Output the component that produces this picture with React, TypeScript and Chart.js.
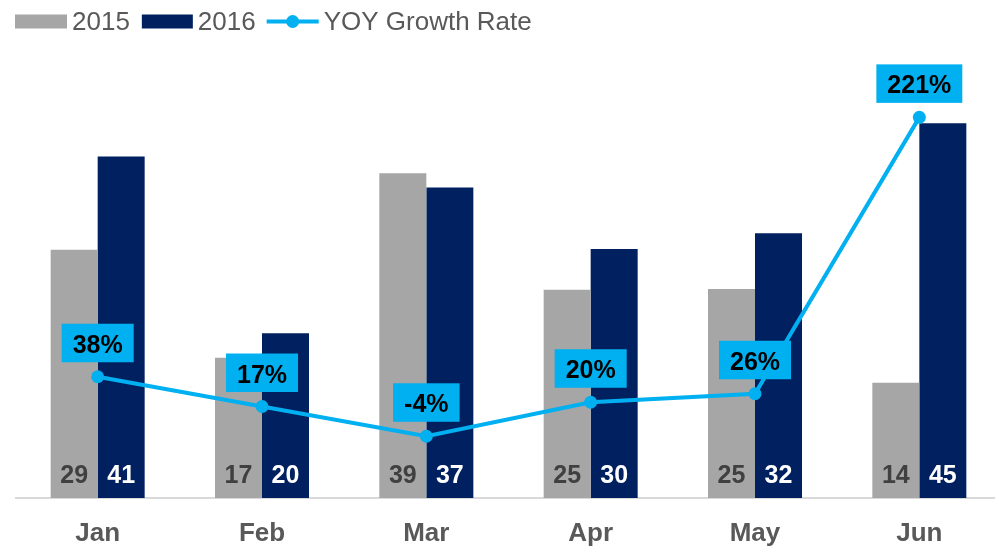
import React, { useEffect, useRef } from "react";
import { Chart, registerables } from "chart.js";

Chart.register(...registerables);

const categories = ["Jan", "Feb", "Mar", "Apr", "May", "Jun"];
const seriesNames = ["2015", "2016", "YOY Growth Rate"];
const values2015 = [29.8, 16.85, 39.0, 25.0, 25.1, 13.85];
const values2016 = [41.0, 19.8, 37.3, 29.9, 31.8, 45.0];
const labels2015 = ["29", "17", "39", "25", "25", "14"];
const labels2016 = ["41", "20", "37", "30", "32", "45"];
const growthRate = [38, 17, -4, 20, 26, 221];

const FONT = '"Liberation Sans", Arial, Helvetica, sans-serif';
const GRAY = "#A6A6A6";
const NAVY = "#002060";
const CYAN = "#00B0F0";

const labelPlugin = {
  id: "customLabels",
  afterDatasetsDraw(chart: any) {
    const ctx = chart.ctx;
    ctx.save();
    ctx.textAlign = "center";
    ctx.textBaseline = "alphabetic";
    ctx.font = `bold 25px ${FONT}`;
    [0, 1].forEach((di) => {
      const meta = chart.getDatasetMeta(di);
      const texts = di === 0 ? labels2015 : labels2016;
      ctx.fillStyle = di === 0 ? "#404040" : "#FFFFFF";
      meta.data.forEach((el: any, i: number) => {
        ctx.fillText(texts[i], el.x, el.base - 15.5);
      });
    });
    ctx.font = `bold 25px ${FONT}`;
    const lm = chart.getDatasetMeta(2);
    lm.data.forEach((pt: any, i: number) => {
      const t = growthRate[i] + "%";
      const w = ctx.measureText(t).width + 22;
      ctx.fillStyle = CYAN;
      ctx.fillRect(pt.x - w / 2, pt.y - 53, w, 38.5);
      ctx.fillStyle = "#000000";
      ctx.fillText(t, pt.x, pt.y - 24);
    });
    ctx.restore();
  },
};

const legendPlugin = {
  id: "customLegend",
  afterDraw(chart: any) {
    const ctx = chart.ctx;
    ctx.save();
    ctx.font = `26px ${FONT}`;
    ctx.textAlign = "left";
    ctx.textBaseline = "alphabetic";
    const baseY = 29.5;
    let x = 15;
    // 2015
    ctx.fillStyle = GRAY;
    ctx.fillRect(x, 14.5, 52, 14);
    x += 52 + 5;
    ctx.fillStyle = "#595959";
    ctx.fillText(seriesNames[0], x, baseY);
    x += ctx.measureText(seriesNames[0]).width + 12;
    // 2016
    ctx.fillStyle = NAVY;
    ctx.fillRect(x, 14.5, 51, 14);
    x += 51 + 5;
    ctx.fillStyle = "#595959";
    ctx.fillText(seriesNames[1], x, baseY);
    x += ctx.measureText(seriesNames[1]).width + 11;
    // line
    ctx.strokeStyle = CYAN;
    ctx.lineWidth = 4;
    ctx.beginPath();
    ctx.moveTo(x, 21.5);
    ctx.lineTo(x + 52, 21.5);
    ctx.stroke();
    ctx.fillStyle = CYAN;
    ctx.beginPath();
    ctx.arc(x + 26, 21.5, 6.5, 0, Math.PI * 2);
    ctx.fill();
    x += 52 + 5;
    ctx.fillStyle = "#595959";
    ctx.fillText(seriesNames[2], x, baseY);
    ctx.restore();
  },
};

export default function App() {
  const ref = useRef<HTMLCanvasElement | null>(null);

  useEffect(() => {
    document.body.style.margin = "0";
    document.body.style.overflow = "hidden";
    const canvas = ref.current;
    if (!canvas) return;
    const chart = new Chart(canvas, {
      type: "bar",
      data: {
        labels: categories,
        datasets: [
          {
            type: "bar",
            label: seriesNames[0],
            data: values2015,
            backgroundColor: GRAY,
            yAxisID: "y",
            order: 1,
            barPercentage: 1,
            categoryPercentage: 0.572,
          },
          {
            type: "bar",
            label: seriesNames[1],
            data: values2016,
            backgroundColor: NAVY,
            yAxisID: "y",
            order: 2,
            barPercentage: 1,
            categoryPercentage: 0.572,
          },
          {
            type: "line",
            label: seriesNames[2],
            data: growthRate,
            borderColor: CYAN,
            backgroundColor: CYAN,
            borderWidth: 4,
            pointRadius: 6.5,
            pointBorderWidth: 0,
            pointBackgroundColor: CYAN,
            tension: 0,
            yAxisID: "y1",
            order: 0,
          } as any,
        ],
      },
      options: {
        responsive: false,
        animation: false,
        layout: { padding: { left: 15.5, right: 8.5, top: 81.65, bottom: 0 } },
        plugins: {
          legend: { display: false },
          tooltip: { enabled: false },
        },
        scales: {
          x: {
            offset: true,
            grid: { display: false },
            border: { display: true, color: "#D9D9D9", width: 2 },
            ticks: {
              color: "#595959",
              font: { family: FONT, size: 26, weight: "bold" },
              padding: 12,
              maxRotation: 0,
            },
            afterFit: (scale: any) => {
              scale.height = 50;
            },
          },
          y: { display: false, min: 0, max: 50 },
          y1: { display: false, min: -47.55, max: 246.2 },
        },
      },
      plugins: [labelPlugin, legendPlugin],
    } as any);
    return () => chart.destroy();
  }, []);

  return (
    <div style={{ position: "relative", width: 1010, height: 548 }}>
      <canvas ref={ref} width={1010} height={548} style={{ display: "block" }} />
    </div>
  );
}
